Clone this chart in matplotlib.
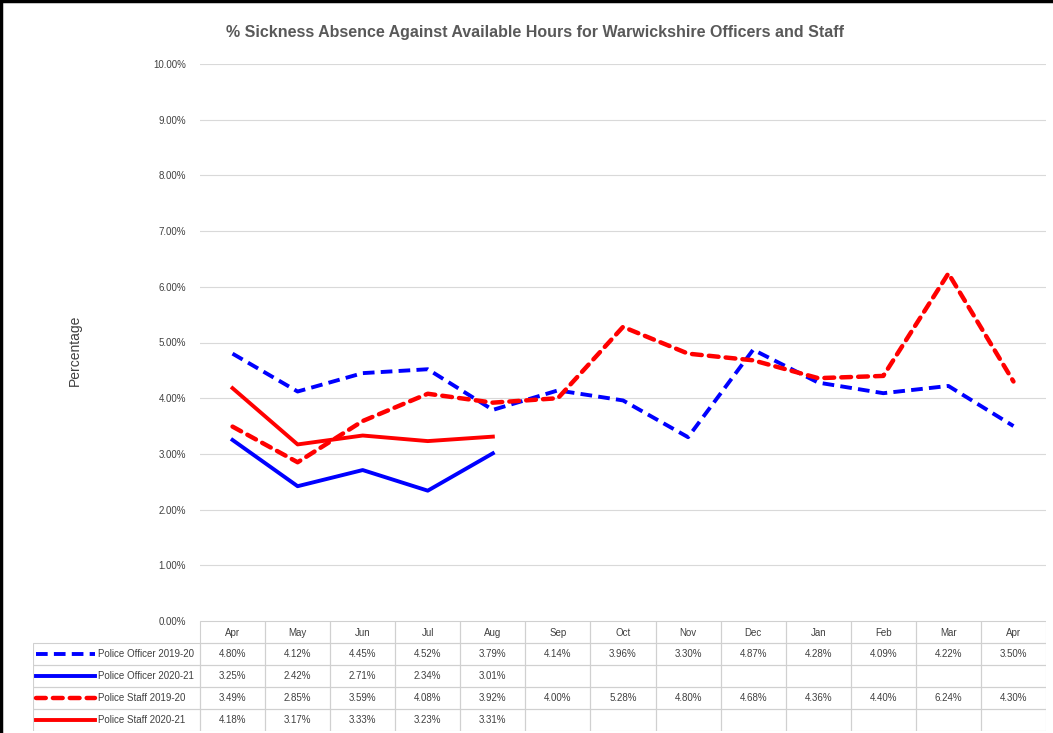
import numpy as np
import matplotlib.pyplot as plt
from matplotlib.lines import Line2D
from matplotlib.patches import Rectangle

plt.rcParams['font.family'] = ['Liberation Sans', 'DejaVu Sans']

months = ['Apr', 'May', 'Jun', 'Jul', 'Aug', 'Sep', 'Oct', 'Nov', 'Dec', 'Jan', 'Feb', 'Mar', 'Apr']
officer_1920 = [4.80, 4.12, 4.45, 4.52, 3.79, 4.14, 3.96, 3.30, 4.87, 4.28, 4.09, 4.22, 3.50]
officer_2021 = [3.25, 2.42, 2.71, 2.34, 3.01]
staff_1920 = [3.49, 2.85, 3.59, 4.08, 3.92, 4.00, 5.28, 4.80, 4.68, 4.36, 4.40, 6.24, 4.30]
staff_2021 = [4.18, 3.17, 3.33, 3.23, 3.31]
series_names = ['Police Officer 2019-20', 'Police Officer 2020-21', 'Police Staff 2019-20', 'Police Staff 2020-21']

W, H = 1053, 733
fig = plt.figure(figsize=(W / 100, H / 100), dpi=100)

# main plot area (pixel coords converted to figure fractions)
x0, x1 = 200, 1046
ytop, ybot = 64, 621
ax = fig.add_axes([x0 / W, 1 - ybot / H, (x1 - x0) / W, (ybot - ytop) / H])

series = [officer_1920, officer_2021, staff_1920, staff_2021]
styles = [
    dict(color='#0000ff', linestyle=(0, (3, 1.6)), linewidth=2.8),
    dict(color='#0000ff', linestyle='-', linewidth=2.8),
    dict(color='#ff0000', linestyle=(0, (2.2, 1.6)), linewidth=3.2, dash_capstyle='round'),
    dict(color='#ff0000', linestyle='-', linewidth=2.8),
]
for vals, st in zip(series, styles):
    ax.plot(np.arange(len(vals)), vals, **st)

ax.set_xlim(-0.5, len(months) - 0.5)
ax.set_ylim(0, 10)
ax.set_yticks(np.arange(0, 11, 1))
ax.set_yticklabels(['%.2f%%' % v for v in np.arange(0, 11, 1)], fontsize=7, color='#404040')
ax.set_xticks([])
ax.grid(axis='y', color='#d9d9d9', linewidth=0.8)
ax.set_axisbelow(True)
for s in ax.spines.values():
    s.set_visible(False)
ax.tick_params(axis='y', length=0, pad=10)

fig.text(75 / W, 1 - 350 / H, 'Percentage', rotation=90, fontsize=10, color='#404040',
         ha='center', va='center')
fig.text(535 / W, 1 - 33 / H, '% Sickness Absence Against Available Hours for Warwickshire Officers and Staff',
         fontsize=11.5, color='#595959', fontweight='bold', ha='center', va='center')

# data table below the plot
lx = 33
row_h = 22
col_w = (x1 - x0) / len(months)
lab_w = (x0 - lx) / col_w
tax = fig.add_axes([lx / W, 1 - (ybot + 5 * row_h) / H, (x1 - lx) / W, 5 * row_h / H])
tax.set_xlim(-0.5 - lab_w, len(months) - 0.5)
tax.set_ylim(5, 0)
tax.axis('off')

grid_c = '#d0d0d0'
for j, m in enumerate(months):
    tax.add_patch(Rectangle((j - 0.5, 0), 1, 1, fill=False, edgecolor=grid_c, linewidth=0.8))
    tax.text(j, 0.55, m, ha='center', va='center', fontsize=7, color='#404040')
for i, (vals, st, name) in enumerate(zip(series, styles, series_names)):
    r = i + 1
    tax.add_patch(Rectangle((-0.5 - lab_w, r), lab_w, 1, fill=False, edgecolor=grid_c, linewidth=0.8))
    tax.add_line(Line2D([-0.5 - lab_w + 0.05, -0.5 - lab_w + 0.95], [r + 0.5, r + 0.5], **st))
    tax.text(-0.5 - lab_w + 1.0, r + 0.5, name, ha='left', va='center', fontsize=7, color='#404040')
    for j in range(len(months)):
        tax.add_patch(Rectangle((j - 0.5, r), 1, 1, fill=False, edgecolor=grid_c, linewidth=0.8))
        if j < len(vals):
            tax.text(j, r + 0.5, '%.2f%%' % vals[j], ha='center', va='center', fontsize=7, color='#404040')

# black frame on left and top
fig.add_artist(Line2D([0.001, 0.001], [0, 1], color='black', linewidth=2.5, transform=fig.transFigure))
fig.add_artist(Line2D([0, 1], [0.998, 0.998], color='black', linewidth=2.5, transform=fig.transFigure))

fig.savefig('out.png', dpi=100)
